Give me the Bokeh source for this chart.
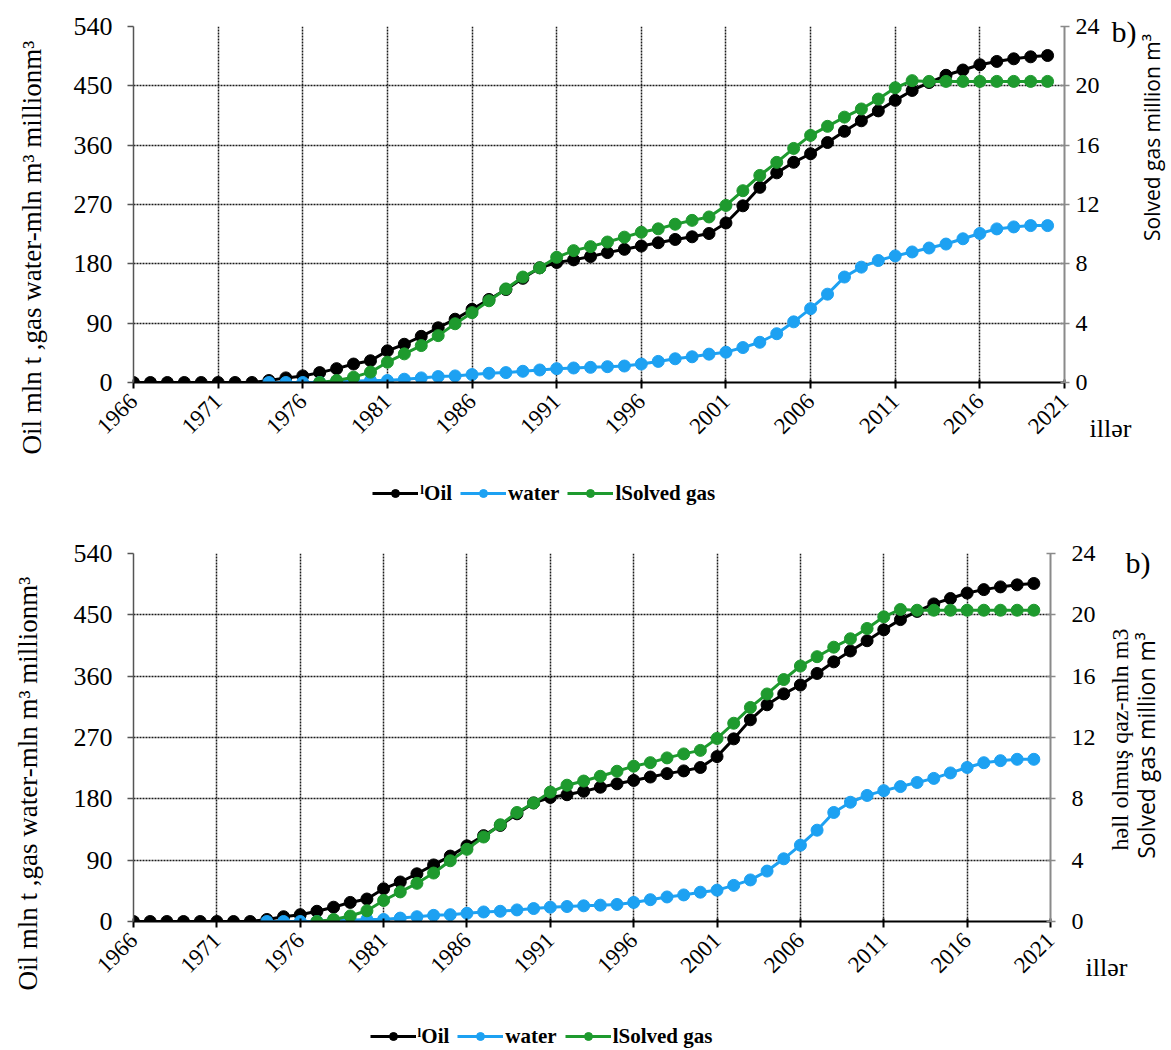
import math
from bokeh.plotting import figure
from bokeh.models import Range1d, LinearAxis, FixedTicker, Legend, LegendItem, Label
from bokeh.layouts import column
from bokeh.embed import file_html
from bokeh.resources import INLINE

# ---------------- data ----------------
years = list(range(1966, 2021))
oil = [0, 0, 0, 0, 0, 0, 0, 0, 3, 7, 10, 15, 21, 28, 33, 48, 58, 70, 83, 96,
       111, 126, 141, 158, 174, 182, 186, 191, 197, 202, 207, 212, 217, 221, 226,
       242, 268, 296, 318, 334, 347, 364, 381, 397, 412, 428, 443, 455, 466, 474,
       482, 487, 491, 494, 496]

water_years = list(range(1974, 2021))
water = [0, 0, 0, 0, 2, 2, 3, 3, 5, 7, 9, 10, 12, 14, 15, 17, 19, 21, 22, 23,
         24, 25, 28, 32, 36, 39, 43, 46, 53, 61, 74, 92, 112, 134, 160, 175, 185,
         192, 198, 204, 210, 218, 226, 233, 236, 238, 238]

gas_years = list(range(1977, 2021))
gas = [0.0, 0.13, 0.36, 0.70, 1.37, 1.93, 2.49, 3.16, 3.96, 4.71, 5.51, 6.31,
       7.11, 7.73, 8.44, 8.89, 9.16, 9.47, 9.80, 10.13, 10.36, 10.67, 10.93, 11.16,
       11.94, 12.93, 13.96, 14.84, 15.78, 16.66, 17.27, 17.89, 18.44, 19.11, 19.87,
       20.35, 20.3, 20.3, 20.3, 20.3, 20.3, 20.3, 20.3, 20.3]

x_ticks = list(range(1966, 2022, 5))
left_ticks = [0, 90, 180, 270, 360, 450, 540]
right_ticks = [0, 4, 8, 12, 16, 20, 24]

series_names = ["\u02e1Oil", "water", "lSolved gas"]
left_title = "Oil mln t ,gas water-mln m\u00b3 millionm\u00b3"
right_title_az = "h\u0259ll olmu\u015f qaz-mln m3"
right_title_en = "Solved gas million m\u00b3"
x_title = "ill\u0259r"
panel_tag = "b)"

SERIF = "Liberation Serif"
SANS = "Open Sans"
C_OIL = "#000000"
C_WATER = "#1DA1F2"
C_GAS = "#1E9A2E"
PAGE_W = 1171
LEG_H = 23


def make_panel(page_top, height, fl, ft, fw, fh, cfg):
    fr = PAGE_W - fl - fw
    fb = height - ft - fh
    p = figure(width=PAGE_W, height=height, frame_width=fw, frame_height=fh,
               x_range=Range1d(1966, 2021), y_range=Range1d(0, 540),
               output_backend="svg", toolbar_location=None,
               min_border_left=fl, min_border_right=fr,
               min_border_top=ft, min_border_bottom=fb,
               x_axis_location=None, y_axis_location=None)
    p.outline_line_color = None
    p.extra_y_ranges = {"gas": Range1d(0, 24)}
    frame_top_page = page_top + ft
    frame_bottom_page = frame_top_page + fh

    def to_data(px, py):
        return (1966 + (px - fl) / fw * 55.0, (frame_bottom_page - py) / fh * 540.0)

    # ---- x axis ----
    xa = LinearAxis(ticker=FixedTicker(ticks=x_ticks))
    xa.major_label_orientation = math.pi / 4
    xa.major_label_text_font = SERIF
    xa.major_label_text_font_size = "23px"
    xa.major_label_text_color = "black"
    xa.axis_line_color = "black"
    xa.axis_line_width = 2
    xa.major_tick_line_color = "black"
    xa.major_tick_line_width = 2
    xa.major_tick_in = 3
    xa.major_tick_out = 6
    xa.minor_tick_line_color = None
    xa.major_label_standoff = 9
    p.add_layout(xa, "below")

    # ---- left axis ----
    ya = LinearAxis(ticker=FixedTicker(ticks=left_ticks))
    ya.major_label_text_font = SERIF
    ya.major_label_text_font_size = "26px"
    ya.major_label_text_color = "black"
    ya.axis_line_color = "#555555"
    ya.axis_line_width = 1.5
    ya.major_tick_line_color = "#555555"
    ya.major_tick_line_width = 1.5
    ya.major_tick_in = 0
    ya.major_tick_out = 6
    ya.minor_tick_line_color = None
    ya.major_label_standoff = 15
    p.add_layout(ya, "left")

    # ---- right axis ----
    ra = LinearAxis(y_range_name="gas", ticker=FixedTicker(ticks=right_ticks))
    ra.major_label_text_font = SERIF
    ra.major_label_text_font_size = "24px"
    ra.major_label_text_color = "black"
    ra.axis_line_color = "#8a8a8a"
    ra.axis_line_width = 2
    ra.major_tick_line_color = "#8a8a8a"
    ra.major_tick_line_width = 1.5
    ra.major_tick_in = 4
    ra.major_tick_out = 5
    ra.minor_tick_line_color = None
    ra.major_label_standoff = cfg["right_standoff"]
    p.add_layout(ra, "right")

    # ---- grids ----
    p.xgrid.ticker = FixedTicker(ticks=x_ticks)
    p.ygrid.ticker = FixedTicker(ticks=left_ticks)
    for g in (p.xgrid, p.ygrid):
        g.grid_line_color = "#1a1a1a"
        g.grid_line_dash = "2 1"
        g.grid_line_width = 1.5

    # ---- series ----
    lo = p.line(years, oil, line_color=C_OIL, line_width=3)
    so = p.scatter(years, oil, size=12, fill_color=C_OIL, line_color=C_OIL)
    lw = p.line(water_years, water, line_color=C_WATER, line_width=3)
    sw = p.scatter(water_years, water, size=12, fill_color=C_WATER, line_color=C_WATER)
    lg = p.line(gas_years, gas, line_color=C_GAS, line_width=3, y_range_name="gas")
    sg = p.scatter(gas_years, gas, size=12, fill_color=C_GAS, line_color=C_GAS,
                   y_range_name="gas")

    # ---- series legend: side panel on the right, offset back under the frame ----
    vx = cfg["legend_left"] - cfg["legend_anchor"]
    vy = frame_bottom_page - LEG_H - (cfg["legend_center"] - LEG_H / 2)
    leg = Legend(items=[LegendItem(label=series_names[0], renderers=[lo, so]),
                        LegendItem(label=series_names[1], renderers=[lw, sw]),
                        LegendItem(label=series_names[2], renderers=[lg, sg])],
                 orientation="horizontal", location=(vx, vy),
                 border_line_color=None, background_fill_alpha=0,
                 label_text_font=SERIF, label_text_font_style="bold",
                 label_text_font_size="21px", label_text_color="black",
                 glyph_width=46, glyph_height=20,
                 label_standoff=2, spacing=8, padding=0, margin=0)
    p.add_layout(leg, "right")

    # ---- free texts around the frame (side panel => not clipped) ----
    for (txt, px, py, font, size, ang, align) in cfg["texts"]:
        x, y = to_data(px, py)
        p.add_layout(Label(x=x, y=y, x_units="data", y_units="data", text=txt,
                           text_font=font, text_font_size=size, text_font_style="normal",
                           text_color="black", text_align=align, text_baseline="middle",
                           angle=ang), "right")
    return p


R90 = math.pi / 2
H1 = 520
H2 = 1050 - H1

top_cfg = dict(
    texts=[(left_title, 27, 247, SERIF, "27px", R90, "center"),
           (right_title_en, 1147, 137, SANS, "21px", R90, "center"),
           (panel_tag, 1132, 31, SERIF, "30px", 0, "right"),
           (x_title, 1106, 428, SERIF, "26px", 0, "center")],
    legend_left=372, legend_center=494, legend_anchor=1328, right_standoff=6)
bot_cfg = dict(
    texts=[(left_title, 27, 783, SERIF, "27px", R90, "center"),
           (right_title_az, 1119, 739, SERIF, "24px", R90, "center"),
           (right_title_en, 1145, 745, SANS, "23px", R90, "center"),
           (panel_tag, 1150, 562, SERIF, "30px", 0, "right"),
           (x_title, 1106, 967, SERIF, "26px", 0, "center")],
    legend_left=372, legend_center=1037, legend_anchor=1295, right_standoff=16)

p1 = make_panel(0, H1, 129, 26, 931, 356, top_cfg)
p2 = make_panel(H1, H2, 133, 553 - H1, 917, 368, bot_cfg)

layout = column(p1, p2, spacing=0)
open("out.html", "w").write(file_html(layout, INLINE))
